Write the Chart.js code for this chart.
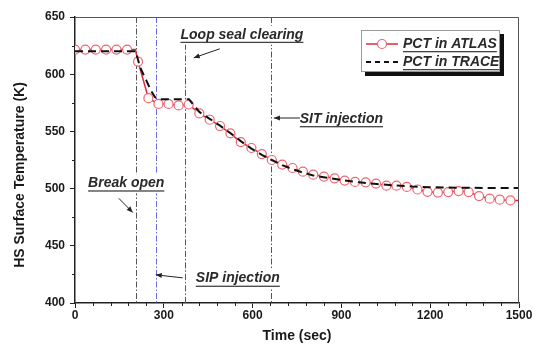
<!DOCTYPE html>
<html><head><meta charset="utf-8">
<script src="https://cdn.jsdelivr.net/npm/chart.js@4"></script>
<style>html,body{margin:0;padding:0;background:#fff}#wrap{width:534px;height:354px;position:relative}</style>
</head><body><div id="wrap"><canvas id="c" width="534" height="354"></canvas></div>
<script>
// ---- data ----
const atlasTime = [0,35,70,105,140,176,204,213,248,282,316,350,384,420,455,490,525,560,596,631,665,700,735,770,805,841,877,911,946,982,1017,1052,1086,1121,1157,1191,1226,1261,1296,1330,1365,1401,1435,1471,1500];
const atlasTemp = [621.5,621.5,621.5,621.5,621.5,621.5,621.5,611,579,574,574,572.7,573.5,565.7,560.2,554.7,548.3,540.7,535.5,530.2,525,521,518,514.8,512.2,510.5,509,507,505.8,505.5,504.4,502.6,502.6,501.5,499.2,497.2,496.5,497,497.8,497,493.5,491.2,490.3,489.7,489.5];
const atlasLineOnlyTimes = [204,1500];
const traceTime = [0,205,220,240,258,270,285,385,420,455,490,525,560,596,631,665,700,735,770,805,840,900,960,1020,1080,1140,1200,1300,1400,1500];
const traceTemp = [620,620,606,595,585,580,578,578,567,561,555,548.5,541.5,535,529.5,525,520.5,517,514,511.5,510,507.5,505.5,504,502.8,501.8,501.2,500.8,500.5,500.5];
const seriesNames = ['PCT in ATLAS','PCT in TRACE'];
const xTickLabels = [0,300,600,900,1200,1500];
const yTickLabels = [400,450,500,550,600,650];
const eventNames = ['Break open','SIP injection','Loop seal clearing','SIT injection'];
const eventTimes = [205,272,373,662];

const FF = '"Liberation Sans", Arial, sans-serif';
const RED = '#e02a36', MARK = '#ee6670';

function arrow(ctx,x1,y1,x2,y2){
  ctx.beginPath();ctx.moveTo(x1,y1);ctx.lineTo(x2,y2);ctx.stroke();
  const a=Math.atan2(y2-y1,x2-x1), L=6, W=2.6;
  ctx.beginPath();
  ctx.moveTo(x2,y2);
  ctx.lineTo(x2-L*Math.cos(a)+W*Math.sin(a), y2-L*Math.sin(a)-W*Math.cos(a));
  ctx.lineTo(x2-L*Math.cos(a)-W*Math.sin(a), y2-L*Math.sin(a)+W*Math.cos(a));
  ctx.closePath();ctx.fill();
}

const decor = {
  id:'decor',
  beforeDatasetsDraw(chart){
    const {ctx, chartArea:ca, scales:{x,y}} = chart;
    const styles = [
      {c:'#555', top:650},
      {c:'#6a6ae0', top:650},
      {c:'#555', top:626.5},
      {c:'#555', top:650}
    ];
    ctx.save();
    ctx.lineWidth=1;
    eventTimes.forEach((t,i)=>{
      const px=Math.round(x.getPixelForValue(t))+0.5;
      ctx.strokeStyle=styles[i].c;
      ctx.setLineDash([6,2,1.5,2]);
      ctx.beginPath();ctx.moveTo(px,y.getPixelForValue(styles[i].top));ctx.lineTo(px,ca.bottom);ctx.stroke();
    });
    ctx.restore();
  },
  afterDatasetsDraw(chart){
    const {ctx, chartArea:ca, scales:{x,y}} = chart;
    const X=v=>x.getPixelForValue(v), Y=v=>y.getPixelForValue(v);
    ctx.save();
    // frame top/right
    ctx.strokeStyle='#555';ctx.lineWidth=1;
    ctx.beginPath();ctx.moveTo(ca.left,ca.top+0.5);ctx.lineTo(ca.right-0.5,ca.top+0.5);ctx.lineTo(ca.right-0.5,ca.bottom);ctx.stroke();
    // minor ticks
    ctx.strokeStyle='#222';ctx.lineWidth=1;
    for(let v=60; v<1500; v+=60){ if(v%300===0) continue; const px=Math.round(X(v))+0.5; ctx.beginPath();ctx.moveTo(px,ca.bottom);ctx.lineTo(px,ca.bottom+3);ctx.stroke(); }
    for(let v=425; v<650; v+=50){ const py=Math.round(Y(v))+0.5; ctx.beginPath();ctx.moveTo(ca.left,py);ctx.lineTo(ca.left-3,py);ctx.stroke(); }
    // annotations
    const ann = [
      {i:0, tx:173, ty:504.6, a:[148,491.5,195,479.2]},
      {i:1, tx:550, ty:421.3, a:[364,422,273,424.6]},
      {i:2, tx:564, ty:634.5, a:[489,622.2,401,614.3]},
      {i:3, tx:900, ty:560.8, a:[760,561.7,672,561.7]}
    ];
    ctx.font='italic bold 14px '+FF;
    ctx.textAlign='center';ctx.textBaseline='middle';
    ann.forEach(o=>{
      const txt=eventNames[o.i], cx=X(o.tx), cy=Y(o.ty), w=ctx.measureText(txt).width;
      ctx.fillStyle='#fff';ctx.fillRect(cx-w/2-2,cy-9,w+4,19);
      ctx.fillStyle='#2a2a2a';ctx.fillText(txt,cx,cy);
      ctx.fillStyle='#444';ctx.fillRect(cx-w/2,cy+7,w,1.3);
      ctx.strokeStyle='#222';ctx.fillStyle='#222';ctx.lineWidth=1;
      arrow(ctx,X(o.a[0]),Y(o.a[1]),X(o.a[2]),Y(o.a[3]));
    });
    ctx.restore();
  },
  afterDraw(chart){
    const {ctx} = chart;
    ctx.save();
    // y title
    ctx.translate(20,175);ctx.rotate(-Math.PI/2);
    ctx.font='bold 14px '+FF;ctx.fillStyle='#1a1a1a';ctx.textAlign='center';ctx.textBaseline='middle';
    ctx.fillText('HS Surface Temperature (K)',0,0);
    ctx.restore();
    // legend
    ctx.save();
    const L=361,T=30,W=139,H=42;
    ctx.fillStyle='#111';ctx.fillRect(L+4,T+4,W,H);
    ctx.fillStyle='#fff';ctx.fillRect(L,T,W,H);
    ctx.strokeStyle='#999';ctx.lineWidth=1;ctx.strokeRect(L+0.5,T+0.5,W-1,H-1);
    // entry 1
    ctx.strokeStyle=RED;ctx.lineWidth=1.5;
    ctx.beginPath();ctx.moveTo(366,44);ctx.lineTo(398,44);ctx.stroke();
    ctx.fillStyle='#fff';ctx.strokeStyle=MARK;ctx.lineWidth=1.2;
    ctx.beginPath();ctx.arc(382,44,4.5,0,Math.PI*2);ctx.fill();ctx.stroke();
    // entry 2
    ctx.strokeStyle='#111';ctx.lineWidth=2;ctx.setLineDash([5,4]);
    ctx.beginPath();ctx.moveTo(366,62);ctx.lineTo(400,62);ctx.stroke();
    ctx.setLineDash([]);
    ctx.font='italic bold 14px '+FF;ctx.fillStyle='#2a2a2a';ctx.textAlign='left';ctx.textBaseline='middle';
    [[seriesNames[0],44],[seriesNames[1],62]].forEach(([s,yy])=>{
      ctx.fillText(s,403,yy);
      const w=ctx.measureText(s).width;
      ctx.fillStyle='#444';ctx.fillRect(403,yy+7,w,1.3);ctx.fillStyle='#2a2a2a';
    });
    ctx.restore();
  }
};

new Chart(document.getElementById('c'),{
  type:'line',
  data:{datasets:[
    {label:seriesNames[1], data:traceTime.map((t,i)=>({x:t,y:traceTemp[i]})),
     borderColor:'#111', borderWidth:2, borderDash:[8,5], pointRadius:0, fill:false, tension:0, order:0},
    {label:seriesNames[0], data:atlasTime.map((t,i)=>({x:t,y:atlasTemp[i]})),
     borderColor:RED, borderWidth:1.5, fill:false, tension:0, order:1,
     pointRadius:c=>atlasLineOnlyTimes.includes(c.raw&&c.raw.x)?0:4.5,
     pointBackgroundColor:'#fff', pointBorderColor:MARK, pointBorderWidth:1.2}
  ]},
  options:{
    responsive:false, animation:false,
    layout:{padding:{top:17,right:15,left:0,bottom:0}},
    plugins:{legend:{display:false},tooltip:{enabled:false}},
    scales:{
      x:{type:'linear',min:0,max:1500,
        afterBuildTicks:s=>{s.ticks=xTickLabels.map(v=>({value:v}));},
        afterFit:s=>{s.height=51;},
        ticks:{font:{family:FF,size:12,weight:'bold'},color:'#1a1a1a',padding:0,maxRotation:0,autoSkip:false,callback:v=>String(v)},
        grid:{drawOnChartArea:false,tickLength:5,tickColor:'#222',tickWidth:1},
        border:{color:'#222',width:1.5},
        title:{display:true,text:'Time (sec)',font:{family:FF,size:14,weight:'bold'},color:'#1a1a1a',padding:{top:0,bottom:9.6}}
      },
      y:{type:'linear',min:400,max:650,
        afterBuildTicks:s=>{s.ticks=yTickLabels.map(v=>({value:v}));},
        afterFit:s=>{s.width=75;},
        ticks:{font:{family:FF,size:12,weight:'bold'},color:'#1a1a1a',padding:5,autoSkip:false,callback:v=>String(v)},
        grid:{drawOnChartArea:false,tickLength:5,tickColor:'#222',tickWidth:1},
        border:{color:'#222',width:1.5}
      }
    }
  },
  plugins:[decor]
});
</script></body></html>
